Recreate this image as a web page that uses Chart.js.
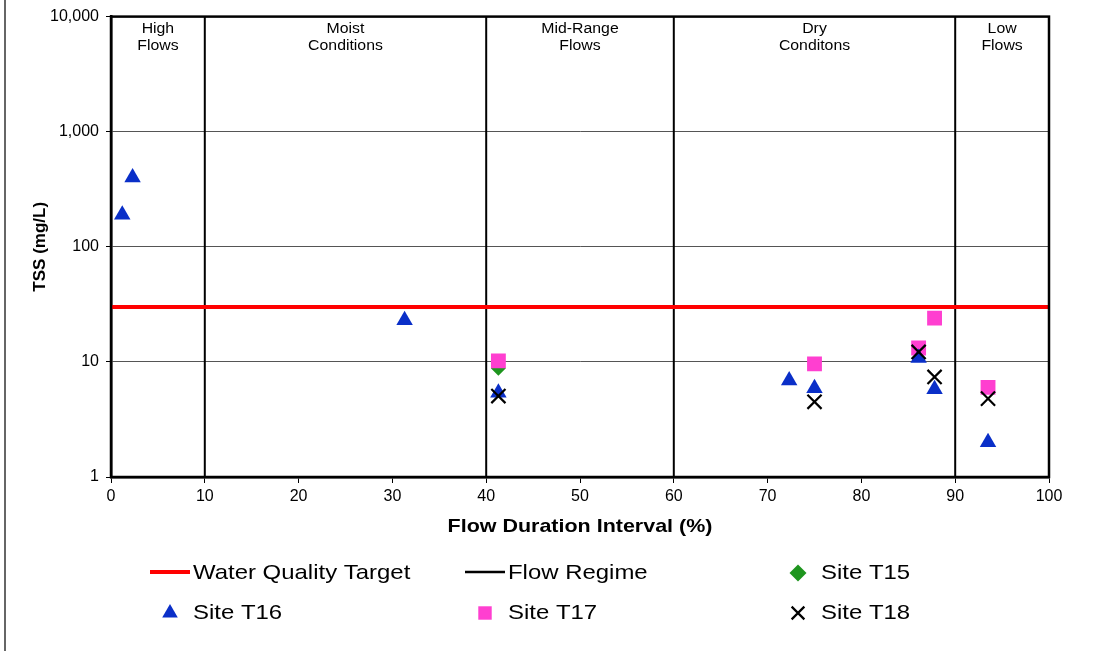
<!DOCTYPE html>
<html lang="en">
<head>
  <meta charset="UTF-8">
  <title>TSS Load Duration</title>
  <script src="https://cdn.jsdelivr.net/npm/chart.js"></script>
  <style>
    html, body { margin: 0; padding: 0; background: #fff; }
    #wrap { position: relative; width: 1110px; height: 651px; }
    #tssChart { display: block; }
  </style>
</head>
<body>
  <div id="wrap">
    <canvas id="tssChart" width="1110" height="651"></canvas>
  </div>
  <script>
    // flow regime boundaries (% of time flow exceeded)
    const regimeBounds = [10, 40, 60, 90];
    const regimeLabels = [
      ['High', 'Flows'],
      ['Moist', 'Conditions'],
      ['Mid-Range', 'Flows'],
      ['Dry', 'Conditons'],
      ['Low', 'Flows']
    ];
    const yTicks = [1, 10, 100, 1000, 10000];
    const xTicks = [0, 10, 20, 30, 40, 50, 60, 70, 80, 90, 100];

    // TSS water quality target, mg/L
    const targetTSS = 30;

    // samples: flow duration interval (%) and TSS (mg/L)
    const t15X = [41.3];
    const t15Y = [8.8];
    const t16X = [1.2, 2.3, 31.3, 41.3, 72.3, 75.0, 86.1, 87.8, 93.5];
    const t16Y = [190, 400, 23, 5.4, 6.9, 5.9, 10.8, 5.8, 2.0];
    const t17X = [41.3, 75.0, 86.1, 87.8, 93.5];
    const t17Y = [10.2, 9.6, 13.2, 24, 6.0];
    const t18X = [41.3, 75.0, 86.1, 87.8, 93.5];
    const t18Y = [5.05, 4.5, 12.2, 7.4, 4.8];

    const FONT = 'Arial, "Liberation Sans", sans-serif';
    const pts = (xs, ys) => xs.map((x, i) => ({ x: x, y: ys[i] }));

    // text is a little wide in this layout, so stretch it horizontally
    function wideText(ctx, text, x, y, sx, rot) {
      ctx.save();
      ctx.translate(x, y);
      if (rot) ctx.rotate(rot);
      ctx.scale(sx, 1);
      ctx.fillText(text, 0, 0);
      ctx.restore();
    }

    const targetSet = {
      label: 'Water Quality Target',
      type: 'line',
      data: [{ x: 0, y: targetTSS }, { x: 100, y: targetTSS }],
      borderColor: '#ff0000',
      borderWidth: 4,
      pointRadius: 0,
      order: 3
    };

    const regimeSets = regimeBounds.map(b => ({
      label: 'Flow Regime',
      type: 'line',
      data: [{ x: b, y: yTicks[0] }, { x: b, y: yTicks[yTicks.length - 1] }],
      borderColor: '#000',
      borderWidth: 2,
      pointRadius: 0,
      order: 4
    }));

    const siteSets = [
      { label: 'Site T15', data: pts(t15X, t15Y), pointStyle: 'rectRot', pointRadius: 7.5,
        backgroundColor: '#1e951e', borderColor: '#1e951e', borderWidth: 0, order: 2.5 },
      { label: 'Site T16', data: pts(t16X, t16Y), pointStyle: 'triangle', pointRadius: 9.5,
        backgroundColor: '#0a2fc8', borderColor: '#0a2fc8', borderWidth: 0, order: 1.5 },
      { label: 'Site T17', data: pts(t17X, t17Y), pointStyle: 'rect', pointRadius: 10.5,
        backgroundColor: '#ff3fd0', borderColor: '#ff3fd0', borderWidth: 0, order: 2 },
      { label: 'Site T18', data: pts(t18X, t18Y), pointStyle: 'crossRot', pointRadius: 10,
        backgroundColor: '#000', borderColor: '#000', borderWidth: 2.2, order: 1 }
    ];

    // legend marker sizes
    const legendRadius = { rectRot: 8.5, triangle: 9, rect: 9.5, crossRot: 9 };

    const decorPlugin = {
      id: 'decor',
      beforeDraw(chart) {
        const ctx = chart.ctx;
        ctx.save();
        ctx.fillStyle = '#fff';
        ctx.fillRect(0, 0, chart.width, chart.height);
        // outer frame line on the left
        ctx.strokeStyle = '#333';
        ctx.lineWidth = 1.5;
        ctx.beginPath();
        ctx.moveTo(5, 0);
        ctx.lineTo(5, chart.height);
        ctx.stroke();
        ctx.restore();
      },
      afterDatasetsDraw(chart) {
        const ctx = chart.ctx;
        const a = chart.chartArea;
        const xs = chart.scales.x;
        ctx.save();
        // plot frame
        ctx.strokeStyle = '#000';
        ctx.lineWidth = 2.5;
        ctx.strokeRect(a.left, a.top, a.right - a.left, a.bottom - a.top);

        // flow regime captions
        const edges = [xs.min].concat(regimeBounds, [xs.max]);
        ctx.fillStyle = '#000';
        ctx.font = '14px ' + FONT;
        ctx.textAlign = 'center';
        ctx.textBaseline = 'middle';
        regimeLabels.forEach((lines, i) => {
          const cx = xs.getPixelForValue((edges[i] + edges[i + 1]) / 2);
          lines.forEach((t, j) => wideText(ctx, t, cx, a.top + 13 + j * 17, 1.13));
        });

        // axis titles
        ctx.font = 'bold 19px ' + FONT;
        wideText(ctx, 'Flow Duration Interval (%)', (a.left + a.right) / 2, a.bottom + 50, 1.13);
        ctx.font = 'bold 17px ' + FONT;
        wideText(ctx, 'TSS (mg/L)', 40, (a.top + a.bottom) / 2, 1, -Math.PI / 2);

        // legend
        const rows = [572, 612];
        const cols = [170, 485, 798];
        const items = [
          { ds: targetSet, kind: 'line' },
          { ds: regimeSets[0], kind: 'line' },
          { ds: siteSets[0], kind: 'point' },
          { ds: siteSets[1], kind: 'point' },
          { ds: siteSets[2], kind: 'point' },
          { ds: siteSets[3], kind: 'point' }
        ];
        ctx.font = '21px ' + FONT;
        ctx.textAlign = 'left';
        items.forEach((it, k) => {
          const cx = cols[k % 3];
          const cy = rows[Math.floor(k / 3)];
          if (it.kind === 'line') {
            ctx.strokeStyle = it.ds.borderColor;
            ctx.lineWidth = it.ds.borderWidth === 4 ? 4 : 2.5;
            ctx.beginPath();
            ctx.moveTo(cx - 20, cy);
            ctx.lineTo(cx + 20, cy);
            ctx.stroke();
          } else {
            ctx.fillStyle = it.ds.backgroundColor;
            ctx.strokeStyle = it.ds.borderColor;
            ctx.lineWidth = it.ds.borderWidth || 1;
            Chart.helpers.drawPoint(ctx, {
              pointStyle: it.ds.pointStyle,
              radius: legendRadius[it.ds.pointStyle],
              rotation: 0,
              borderWidth: it.ds.borderWidth
            }, cx, cy + 1);
          }
          ctx.fillStyle = '#000';
          wideText(ctx, it.ds.label, cx + 23, cy + 1, 1.14);
        });
        ctx.restore();
      }
    };

    new Chart(document.getElementById('tssChart'), {
      type: 'scatter',
      data: { datasets: [targetSet].concat(regimeSets, siteSets) },
      options: {
        responsive: false,
        animation: false,
        layout: { padding: { left: 0, right: 61, top: 16, bottom: 114 } },
        plugins: {
          legend: { display: false },
          tooltip: { enabled: false }
        },
        scales: {
          x: {
            type: 'linear',
            min: 0,
            max: 100,
            afterFit: s => { s.height = 60; },
            afterBuildTicks: s => { s.ticks = xTicks.map(v => ({ value: v })); },
            ticks: { color: '#000', font: { family: FONT, size: 16 }, padding: 4, maxRotation: 0 },
            grid: { drawOnChartArea: false, drawTicks: true, tickLength: 6, tickColor: '#000' },
            border: { color: '#000', width: 2.5 }
          },
          y: {
            type: 'logarithmic',
            min: 1,
            max: 10000,
            afterFit: s => { s.width = 111; },
            afterBuildTicks: s => { s.ticks = yTicks.map(v => ({ value: v })); },
            ticks: {
              color: '#000',
              font: { family: FONT, size: 16 },
              padding: 7,
              callback: v => v.toLocaleString('en-US')
            },
            grid: { color: '#555', lineWidth: 1, tickLength: 5, tickColor: '#000' },
            border: { color: '#000', width: 2.5 }
          }
        }
      },
      plugins: [decorPlugin]
    });
  </script>
</body>
</html>
